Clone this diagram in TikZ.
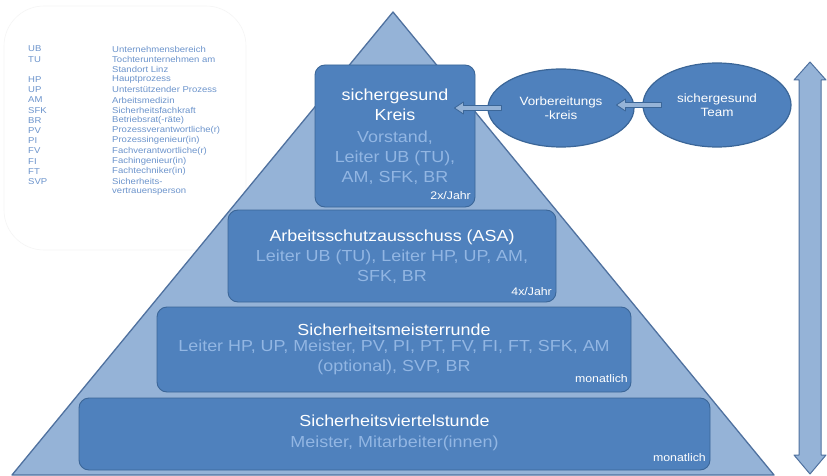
\documentclass[tikz,border=0pt]{standalone}
\usepackage{fontspec}
\setmainfont[FakeStretch=1.12]{Liberation Sans}
\usetikzlibrary{calc,shapes.geometric}
\definecolor{boxblue}{HTML}{4F81BD}
\definecolor{boxedge}{HTML}{3B6698}
\definecolor{pyrfill}{HTML}{95B3D7}
\definecolor{pyredge}{HTML}{4F719F}
\definecolor{parttext}{HTML}{92B6E3}
\definecolor{legtext}{HTML}{6C94CC}
\tikzset{
  pyr/.style={draw=pyredge, fill=pyrfill, line width=1.3pt, line join=round},
  tier/.style={draw=boxedge, fill=boxblue, line width=0.9pt, rounded corners=10pt, inner sep=0pt},
  ttl/.style={text=white, font=\fontsize{16}{20}\selectfont, align=center, inner sep=0pt},
  part/.style={text=parttext, font=\fontsize{16}{20}\selectfont, align=center, inner sep=0pt},
  freq/.style={text=white, font=\fontsize{11}{13}\selectfont, anchor=east, inner sep=0pt},
  oval/.style={ellipse, draw=boxedge, fill=boxblue, line width=1.2pt, inner sep=0pt,
    text=white, font=\fontsize{12}{14}\selectfont, align=center},
  blockarr/.style={draw=boxedge, fill=pyrfill, line width=0.8pt, line join=round,
    to path={($(\tikztostart)+(0,2.5pt)$) -- ($(\tikztotarget)+(9pt,2.5pt)$)
      -- ($(\tikztotarget)+(9pt,6pt)$) -- (\tikztotarget) -- ($(\tikztotarget)+(9pt,-6pt)$)
      -- ($(\tikztotarget)+(9pt,-2.5pt)$) -- ($(\tikztostart)+(0,-2.5pt)$) -- cycle}},
  legab/.style={text=legtext, font=\fontsize{8.5}{10}\selectfont, anchor=west, inner sep=0pt},
  legtx/.style={text=legtext, font=\fontsize{8.5}{10}\selectfont, anchor=west, inner sep=0pt},
  bigarr/.style={draw=pyredge, fill=pyrfill, line width=1pt, line join=round}
}
\begin{document}
\begin{tikzpicture}[x=1pt,y=-1pt]
\useasboundingbox (0,0) rectangle (827,476);
\fill[white] (0,0) rectangle (827,476);

% legend frame
\draw[gray!8, line width=0.6pt, rounded corners=40pt] (4,6) rectangle (246,250);
\foreach \ab/\txt [count=\i from 0] in {UB/Unternehmensbereich, TU/Tochterunternehmen am,
  /Standort Linz, HP/Hauptprozess, UP/Unterstützender Prozess, AM/Arbeitsmedizin,
  SFK/Sicherheitsfachkraft, BR/Betriebsrat(-räte), PV/Prozessverantwortliche(r),
  PI/Prozessingenieur(in), FV/Fachverantwortliche(r), FI/Fachingenieur(in),
  FT/Fachtechniker(in), SVP/Sicherheits-, /vertrauensperson}{
  \node[legab] (lga\i) at (28,49+10.2*\i) {\ab};
  \node[legtx] (lgb\i) at (112,49+10.2*\i) {\txt};
}

% pyramid
\draw[pyr] (12,475) -- (393,12) -- (774,475) -- cycle;

% tiers
\node[tier, minimum width=160pt, minimum height=142pt] (kreis) at (395,136) {};
\node[ttl] (kreisT) at (395,105) {sichergesund\\Kreis};
\node[part] (kreisP) at (395,158) {Vorstand,\\Leiter UB (TU),\\AM, SFK, BR};
\node[freq] (kreisF) at (471,196) {2x/Jahr};

\node[tier, minimum width=328pt, minimum height=92pt] (asa) at (392,256) {};
\node[ttl] (asaT) at (392,237) {Arbeitsschutzausschuss (ASA)};
\node[part] (asaP) at (392,267) {Leiter UB (TU), Leiter HP, UP, AM,\\SFK, BR};
\node[freq] (asaF) at (552,292) {4x/Jahr};

\node[tier, minimum width=474pt, minimum height=85pt] (smr) at (394,349.5) {};
\node[ttl] (smrT) at (394,330) {Sicherheitsmeisterrunde};
\node[part] (smrP) at (394,357.5) {Leiter HP, UP, Meister, PV, PI, PT, FV, FI, FT, SFK, AM\\(optional), SVP, BR};
\node[freq] (smrF) at (628,379) {monatlich};

\node[tier, minimum width=631pt, minimum height=72pt] (svs) at (394.5,434) {};
\node[ttl] (svsT) at (394.5,421) {Sicherheitsviertelstunde};
\node[part] (svsP) at (394.5,443) {Meister, Mitarbeiter(innen)};
\node[freq] (svsF) at (706,458) {monatlich};

% ellipses
\node[oval, minimum width=146pt, minimum height=78pt] (vk) at (561,108) {Vorbereitungs\\-kreis};
\node[oval, minimum width=148pt, minimum height=84pt] (team) at (717,105) {sichergesund\\Team};

% block arrows
\draw[blockarr] ($(vk.west)+(14,0)$) to ($(vk.west)+(-33,0)$);
\draw[blockarr] ($(team.west)+(19,0)$) to ($(team.west)+(-26,0)$);

% vertical double arrow
\draw[bigarr] (810,62) -- (826,80) -- (821,80) -- (821,455) -- (826,455) -- (810,474)
  -- (794,455) -- (799,455) -- (799,80) -- (794,80) -- cycle;
\end{tikzpicture}
\end{document}
